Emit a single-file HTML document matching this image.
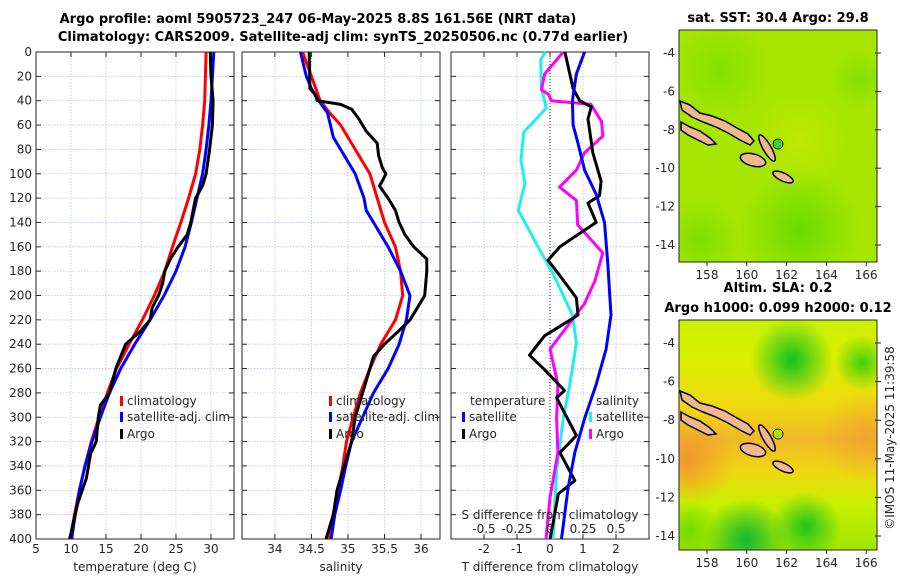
<!DOCTYPE html>
<html><head><meta charset="utf-8">
<style>
body{margin:0;background:#fff;}
svg{display:block;font-family:"DejaVu Sans","Liberation Sans",sans-serif;}
.t{font-size:12px;fill:#262626;}
.b{font-size:13px;font-weight:bold;fill:#000;}
.grid{stroke:#b8c4e6;stroke-width:0.8;stroke-dasharray:1.5 1.5;}
</style></head>
<body>
<svg id="chart" width="900" height="580" viewBox="0 0 900 580">
<text class="b" x="318" y="23" text-anchor="middle">Argo profile: aoml 5905723_247 06-May-2025 8.8S 161.56E (NRT data)</text>
<text class="b" x="343" y="41" text-anchor="middle">Climatology: CARS2009. Satellite-adj clim: synTS_20250506.nc (0.77d earlier)</text>
<g id="maps"></g>
<g id="p1"></g>
<g id="p2"></g>
<g id="p3"></g>
<text class="t" transform="translate(894,438) rotate(-90)" text-anchor="middle">©IMOS 11-May-2025 11:39:58</text>
</svg>
<script>
// ---- data ----
const depthTicks=[0,20,40,60,80,100,120,140,160,180,200,220,240,260,280,300,320,340,360,380,400];
const tempTicks=[5,10,15,20,25,30];
const salTicks=[34,34.5,35,35.5,36];
const tdiffTicks=[-2,-1,0,1,2];
const sdiffTicks=[-0.5,-0.25,0,0.25,0.5];
const sdiffTickLabels=["-0.5","-0.25","0","0.25","0.5"];

const tClimDepth=[0,20,40,60,80,100,120,140,160,180,200,220,240,260,280,300,320,340,360,380,400];
const tClim=[29.3,29.2,29.1,28.8,28.4,27.8,26.8,25.7,24.5,23.4,21.9,20.2,18.3,16.5,15.2,14.0,12.9,12.0,11.2,10.5,9.9];
const tSat=[30.4,30.2,30.0,29.7,29.3,28.8,28.0,27.2,26.3,25.0,23.3,21.3,19.1,17.1,15.5,14.2,13.0,12.0,11.2,10.6,10.1];
const tArgoDepth=[0,20,40,60,80,100,110,120,140,150,160,170,180,190,200,210,220,230,240,250,260,280,290,300,320,330,350,370,400];
const tArgo=[29.9,30.0,30.3,30.2,29.8,29.3,28.8,27.8,27.1,26.6,25.3,24.2,23.4,23.1,22.5,21.6,21.3,19.8,17.8,17.1,16.4,15.5,14.2,13.9,13.6,12.8,12.2,11.0,9.8];

const sClimDepth=[0,20,40,50,60,80,100,120,140,160,180,200,220,240,260,280,300,320,340,360,380,400];
const sClim=[34.38,34.5,34.62,34.75,34.9,35.1,35.3,35.4,35.5,35.65,35.72,35.75,35.65,35.45,35.3,35.17,35.07,34.98,34.93,34.87,34.8,34.73];
const sSatDepth=[0,20,30,40,50,60,70,80,100,120,130,140,160,180,200,220,240,260,280,300,320,340,360,380,400];
const sSat=[34.35,34.43,34.5,34.6,34.72,34.76,34.8,34.9,35.1,35.22,35.25,35.35,35.55,35.72,35.85,35.8,35.7,35.55,35.35,35.2,35.05,34.97,34.9,34.82,34.77];
const sArgoDepth=[0,30,35,40,43,47,55,65,75,85,95,100,105,110,120,130,140,150,160,170,180,200,210,220,230,240,250,260,280,300,320,340,360,380,400];
const sArgo=[34.47,34.48,34.55,34.58,34.9,35.05,35.15,35.25,35.4,35.42,35.47,35.52,35.48,35.43,35.55,35.65,35.7,35.78,35.9,36.08,36.08,36.05,35.95,35.85,35.68,35.5,35.35,35.3,35.2,35.1,35.05,34.95,34.85,34.8,34.7];

const dTArgoDepth=[0,18,30,40,45,55,83,106,118,124,140,148,160,171,182,202,216,222,233,249,261,278,284,315,329,352,363,386,400];
const dTArgo=[0.45,0.6,0.7,0.9,1.25,1.15,1.3,1.55,1.5,1.15,1.4,0.95,0.3,-0.06,0.25,0.8,0.85,0.5,-0.16,-0.62,-0.16,0.44,0.2,0.8,0.3,0.75,0.25,0.1,0];
const dTSatDepth=[0,18,40,60,75,97,117,140,174,216,244,273,301,329,358,400];
const dTSat=[1.05,0.8,0.68,0.7,0.85,1.05,1.4,1.65,1.75,1.85,1.7,1.4,1.05,0.75,0.55,0.35];
const dSSatDepth=[0,6,29,46,66,89,108,130,160,182,216,239,273,301,344,400];
const dSSat=[-0.035,-0.07,-0.066,-0.028,-0.2,-0.22,-0.19,-0.24,-0.09,0.023,0.17,0.2,0.15,0.1,0.05,0.023];
const dSArgoDepth=[0,18,31,35,40,43,57,69,83,97,111,122,142,148,165,188,207,224,244,273,301,329,366,400];
const dSArgo=[0.1,-0.04,-0.065,-0.01,0.01,0.31,0.39,0.4,0.26,0.2,0.073,0.2,0.21,0.26,0.4,0.34,0.26,0.14,0,0.06,0.05,0.06,0,-0.03];

const lonTicks=[158,160,162,164,166];
const latTicks=[-4,-6,-8,-10,-12,-14];

// ---- helpers ----
const NS='http://www.w3.org/2000/svg';
function mk(tag,attrs,parent,text){const e=document.createElementNS(NS,tag);for(const k in attrs)e.setAttribute(k,attrs[k]);if(text!==undefined)e.textContent=text;parent.appendChild(e);return e;}
const Y0=52,Y1=539;
const yD=d=>Y0+(d/400)*(Y1-Y0);

function panel(g,x0,x1,vmin,vmax,ticks,labels,showDepth,name){
  const xs=v=>x0+(v-vmin)/(vmax-vmin)*(x1-x0);
  for(const d of depthTicks){
    const l=mk('line',{x1:x0,x2:x1,y1:yD(d),y2:yD(d),class:'grid'},g);
    
    
    const t1=mk('line',{x1:x0,x2:x0+5,y1:yD(d),y2:yD(d),stroke:'#262626'},g);
    
    
    const t2=mk('line',{x1:x1-5,x2:x1,y1:yD(d),y2:yD(d),stroke:'#262626'},g);
    
    
    if(showDepth){const tl=mk('text',{x:x0-4,y:yD(d)+4,class:'t','text-anchor':'end'},g,String(d));
      
      }
  }
  ticks.forEach((v,i)=>{
    const l=mk('line',{x1:xs(v),x2:xs(v),y1:Y0,y2:Y1,class:'grid'},g);
    
    
    mk('line',{x1:xs(v),x2:xs(v),y1:Y1,y2:Y1-5,stroke:'#262626'},g);
    mk('line',{x1:xs(v),x2:xs(v),y1:Y0,y2:Y0+5,stroke:'#262626'},g);
    const tl=mk('text',{x:xs(v),y:553,class:'t','text-anchor':'middle'},g,labels[i]);
    
    
  });
  const r=mk('rect',{x:x0,y:Y0,width:x1-x0,height:Y1-Y0,fill:'none',stroke:'#262626','stroke-width':1},g);
  
  
  return xs;
}
function line(g,xs,vals,depths,color,name,w){
  const p=vals.map((v,i)=>xs(v).toFixed(1)+','+yD(depths[i]).toFixed(1)).join(' ');
  const e=mk('polyline',{points:p,fill:'none',stroke:color,'stroke-width':w||3,'stroke-linejoin':'round'},g);
  
  
}
function legend(g,x,y,color,label,name){
  const m=mk('rect',{x:x,y:y-9,width:3,height:10,fill:color},g);
  
  
  const t=mk('text',{x:x+7,y:y,class:'t'},g,label);
  
  
}

// ---- panel 1 ----
const g1=document.getElementById('p1');
const xT=panel(g1,36,234,5,33.29,tempTicks,tempTicks.map(String),true,'temperature');
line(g1,xT,tClim,tClimDepth,'#ff0000','temp-climatology-line');
line(g1,xT,tSat,tClimDepth,'#0000ff','temp-satellite-line');
line(g1,xT,tArgo,tArgoDepth,'#000000','temp-argo-line');
legend(g1,120,405,'#ff0000','climatology','legend-climatology');
legend(g1,120,421,'#0000ff','satellite-adj. clim','legend-satellite');
legend(g1,120,438,'#000000','Argo','legend-argo');
mk('text',{x:135,y:571,class:'t','text-anchor':'middle',},g1,'temperature (deg C)');

// ---- panel 2 ----
const g2=document.getElementById('p2');
const xS=panel(g2,242,440,33.55,36.26,salTicks,["34","34.5","35","35.5","36"],false,'salinity');
line(g2,xS,sClim,sClimDepth,'#ff0000','sal-climatology-line');
line(g2,xS,sSat,sSatDepth,'#0000ff','sal-satellite-line');
line(g2,xS,sArgo,sArgoDepth,'#000000','sal-argo-line');
legend(g2,329,405,'#ff0000','climatology','legend-climatology');
legend(g2,329,421,'#0000ff','satellite-adj. clim','legend-satellite');
legend(g2,329,438,'#000000','Argo','legend-argo');
mk('text',{x:341,y:571,class:'t','text-anchor':'middle',},g2,'salinity');

// ---- panel 3 ----
const g3=document.getElementById('p3');
const xD=panel(g3,451,649,-3,3,tdiffTicks,tdiffTicks.map(String),false,'tdiff');
const xSD=v=>xD(v*4);
mk('line',{x1:xD(0),x2:xD(0),y1:Y0,y2:Y1,stroke:'#333','stroke-width':1,'stroke-dasharray':'1 2',},g3);
line(g3,xSD,dSSat,dSSatDepth,'#22eeee','sdiff-satellite-line');
line(g3,xSD,dSArgo,dSArgoDepth,'#ff00ff','sdiff-argo-line');
line(g3,xD,dTArgo,dTArgoDepth,'#000000','tdiff-argo-line');
line(g3,xD,dTSat,dTSatDepth,'#0000ff','tdiff-satellite-line');
mk('text',{x:470,y:405,class:'t',},g3,'temperature');
legend(g3,462,421,'#0000ff','satellite','legend-t-satellite');
legend(g3,462,438,'#000000','Argo','legend-t-argo');
mk('text',{x:596,y:405,class:'t',},g3,'salinity');
legend(g3,589,421,'#22eeee','satellite','legend-s-satellite');
legend(g3,589,438,'#ff00ff','Argo','legend-s-argo');
mk('text',{x:550,y:519,class:'t','text-anchor':'middle',},g3,'S difference from climatology');
sdiffTicks.forEach((v,i)=>{const t=mk('text',{x:xSD(v),y:533,class:'t','text-anchor':'middle'},g3,sdiffTickLabels[i]);
  
  });
mk('text',{x:550,y:571,class:'t','text-anchor':'middle',},g3,'T difference from climatology');

// ---- maps ----
const gm=document.getElementById('maps');
const defs=mk('defs',{},gm);
function rg(id,cx,cy,r,col,op){return `<radialGradient id="${id}" gradientUnits="userSpaceOnUse" cx="${cx}" cy="${cy}" r="${r}"><stop offset="0" stop-color="${col}" stop-opacity="${op}"/><stop offset="1" stop-color="${col}" stop-opacity="0"/></radialGradient>`;}
defs.innerHTML=
 `<linearGradient id="slaBase" gradientUnits="userSpaceOnUse" x1="0" y1="320" x2="0" y2="550"><stop offset="0" stop-color="#c8f000"/><stop offset="0.17" stop-color="#dcf000"/><stop offset="0.38" stop-color="#f0d810"/><stop offset="0.52" stop-color="#f0b828"/><stop offset="0.66" stop-color="#f0d810"/><stop offset="0.8" stop-color="#c8f000"/><stop offset="1" stop-color="#a0e400"/></linearGradient>`+
 rg('sA',720,70,50,'#70dc00',0.6)+rg('sB',800,230,60,'#40d400',0.6)+rg('sC',700,240,40,'#50d800',0.5)+rg('sD',860,80,30,'#60d800',0.5)+rg('sE',800,140,50,'#d0ec00',0.6)+
 rg('lO1',689,460,45,'#f09030',0.9)+rg('lO2',866,437,45,'#f0a030',0.8)+
 rg('lG1',792,360,42,'#10c020',1)+rg('lG2',746,540,42,'#10b830',1)+rg('lG3',806,527,35,'#10c020',0.9)+rg('lG4',862,363,28,'#30cc10',0.9)+rg('lG5',690,530,30,'#60d800',0.8);

function map(y0,h,base,fills,lat0,latPx,name,titleLines,titleYs,dotFill){
  const g=mk('g',{},gm);
  
  
  mk('rect',{x:679,y:y0,width:198,height:h,fill:base},g);
  fills.forEach(f=>mk('rect',{x:679,y:y0,width:198,height:h,fill:f},g));
  const dy=y0-30;
  const isl=[
   '680,101 690,105 700,113 712,116 725,121 737,128 748,134 754,141 750,145 740,140 728,133 716,127 703,122 692,117 682,110',
   '681,122 690,127 700,131 710,138 716,144 708,145 698,140 688,135 681,130'];
  isl.forEach(s=>{const p=s.split(' ').map(q=>{const [a,b]=q.split(',');return a+','+(+b+dy);}).join(' ');
    const e=mk('polygon',{points:p,fill:'#f0b890',stroke:'#000','stroke-width':1.5},g);
    
    });
  [[753,160,13,6,15],[767,148,15,4,60],[783,177,11,4,25]].forEach(a=>{
    const e=mk('ellipse',{cx:a[0],cy:a[1]+dy,rx:a[2],ry:a[3],transform:`rotate(${a[4]} ${a[0]} ${a[1]+dy})`,fill:'#f0b890',stroke:'#000','stroke-width':1.5},g);
    
    });
  const c=mk('circle',{cx:778,cy:144+dy,r:5,fill:dotFill,stroke:'#000','stroke-width':0.8},g);
  
  
  mk('rect',{x:679,y:y0,width:198,height:h,fill:'none',stroke:'#262626'},g);
  const xl=v=>707+(v-158)*19.9;
  lonTicks.forEach(v=>{mk('line',{x1:xl(v),x2:xl(v),y1:y0+h,y2:y0+h+4,stroke:'#262626'},g);
    const t=mk('text',{x:xl(v),y:y0+h+17,class:'t','text-anchor':'middle'},g,String(v));
    
    });
  latTicks.forEach(v=>{const yy=lat0+(-4-v)*latPx;
    mk('line',{x1:875,x2:881,y1:yy,y2:yy,stroke:'#262626'},g);
    const t=mk('text',{x:675,y:yy+4,class:'t','text-anchor':'end'},g,String(v));
    
    });
  titleLines.forEach((s,i)=>{const t=mk('text',{x:778,y:titleYs[i],class:'b','text-anchor':'middle'},g,s);
    
    });
}
map(30,232,'#a6e600',['url(#sE)','url(#sA)','url(#sB)','url(#sC)','url(#sD)'],53,19.2,'sst-map',['sat. SST: 30.4 Argo: 29.8'],[22],'#40d030');
map(320,230,'url(#slaBase)',['url(#lO1)','url(#lO2)','url(#lG1)','url(#lG2)','url(#lG3)','url(#lG4)','url(#lG5)'],343,19.3,'sla-map',['Altim. SLA: 0.2','Argo h1000: 0.099 h2000: 0.12'],[292,312],'#b0e800');
</script>
</body></html>
